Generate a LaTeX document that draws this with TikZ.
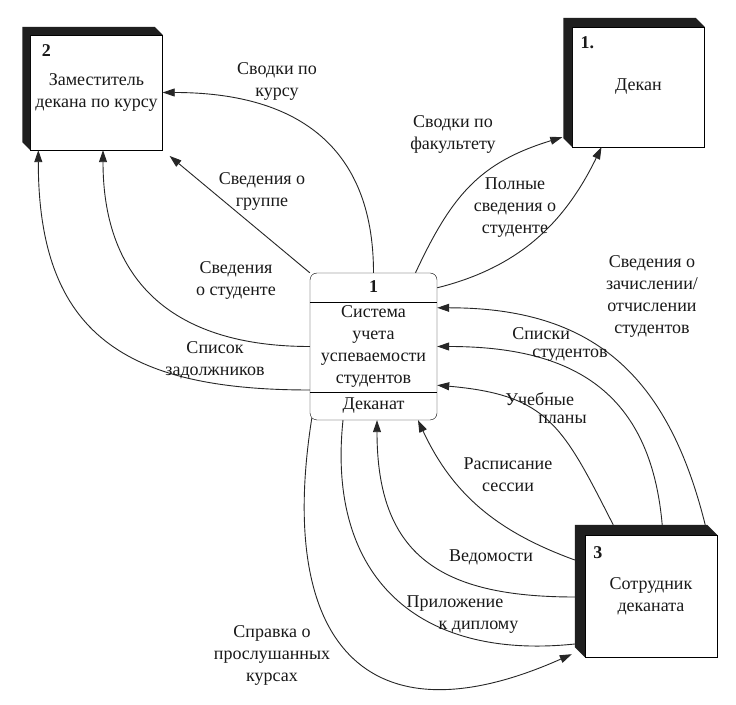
\documentclass[tikz,border=0pt]{standalone}
\usepackage{fontspec}
\setmainfont{Liberation Serif}
\usetikzlibrary{arrows.meta}

\begin{document}
\begin{tikzpicture}
  [x=1pt,y=1pt,
  every node/.style={font=\fontsize{18}{22}\selectfont,text=black!90,align=center},
  ent/.style={draw,fill=white,inner sep=2pt,minimum width=132pt},
  proc/.style={draw,rounded corners=7pt,minimum width=127pt,minimum height=147pt,inner sep=2pt},
  flow/.style={draw=black!85,line width=0.9pt,-{Triangle[length=12pt,width=8pt]}},
  line/.style={draw=black!85,line width=0.9pt}]
  \useasboundingbox (0,0) rectangle (736,704);
  \fill[white] (0,0) rectangle (736,704);

  % entities
  \node[ent,minimum height=115pt] (dep) at (96.5,611.5) {Заместитель\\декана по курсу};
  \node[ent,minimum height=120pt] (dean) at (638.5,617) {Декан};
  \node[ent,minimum height=122pt] (staff) at (651,108) {Сотрудник\\деканата};
  \foreach \n/\d in {dep/8,dean/9,staff/10}
    \fill[black!88] (\n.south west) -- ++(-\d,\d) -- ([shift={(-\d,\d)}]\n.north west)
      -- ([shift={(-\d,\d)}]\n.north east) -- (\n.north east) -- (\n.north west) -- cycle;
  \node (depid) at ([shift={(16,-16)}]dep.north west) {\textbf{2}};
  \node (deanid) at ([shift={(15,-16)}]dean.north west) {\textbf{1.}};
  \node (staffid) at ([shift={(13,-18)}]staff.north west) {\textbf{3}};

  % process
  \node[proc] (sys) at (373.5,357.5) {Система\\учета\\успеваемости\\студентов};
  \node (sysid) at ([yshift=-14pt]sys.north) {\textbf{1}};
  \node (sysdept) at ([yshift=15pt]sys.south) {Деканат};
  \draw ([yshift=-29pt]sys.north west) -- ([yshift=-29pt]sys.north east);
  \draw ([yshift=28pt]sys.south west) -- ([yshift=28pt]sys.south east);

  % flows to the deputy dean
  \draw[flow] (sys.north) to[out=90,in=0,looseness=1.2] (dep.east);
  \draw[flow,shorten >=9pt] (sys.north west) -- (dep.south east);
  \draw[flow] (sys.west) to[out=180,in=-90,looseness=1.2] ([xshift=6.5pt]dep.south);
  \draw[flow] ([yshift=-43.5pt]sys.west) to[out=180,in=-90,looseness=1.3] ([xshift=8pt]dep.south west);
  \node (lcourse) at (277,622.5) {Сводки по\\курсу};
  \node (lgroup) at (262,512.5) {Сведения о\\группе};
  \node (lstud) at (236,423.5) {Сведения\\о студенте};
  \node (ldebt) at (215,344) {Список\\задолжников};

  % flows to the dean
  \draw[flow] ([xshift=42pt]sys.north) to[out=65,in=197,looseness=1.1] ([shift={(-10,10)}]dean.south west);
  \draw[flow] ([yshift=-15pt]sys.north east) to[out=14,in=-116] ([xshift=-37pt]dean.south);
  \node (lfac) at (453,570) {Сводки по\\факультету};
  \node (lfull) at (515,496) {Полные\\сведения о\\студенте};

  % flows from the staff
  \draw[flow] ([shift={(-12,10)}]staff.north east) to[out=104,in=0,looseness=1.15] ([yshift=-35pt]sys.north east);
  \draw[flow] ([shift={(-55,10)}]staff.north east) to[out=95,in=0,looseness=1.2] (sys.east);
  \draw[flow] ([shift={(-104,10)}]staff.north east) to[out=117,in=-5,looseness=1.27] ([yshift=35pt]sys.south east);
  \draw[flow] ([shift={(-10,36)}]staff.west) to[out=160,in=-65] ([xshift=44.5pt]sys.south);
  \draw[flow] ([shift={(-10,-1)}]staff.west) to[out=180,in=-90,looseness=1.3] ([xshift=3.5pt]sys.south);
  \draw[line] ([xshift=-30.5pt]sys.south) to[out=-96,in=186,looseness=1.25] ([shift={(-10,-48)}]staff.west);
  \draw[flow] ([shift={(2,2)}]sys.south west) to[out=-99,in=204,looseness=1.65] ([shift={(-13,3)}]staff.south west);
  \node (lenrol) at (652,408) {Сведения о\\зачислении/\\отчислении\\студентов};
  \node[align=left] (llist) at (560,360) {Списки\\[-4pt]\hspace*{20pt}студентов};
  \node[align=left] (lplan) at (546,295.5) {Учебные\\[-4pt]\hspace*{33pt}планы};
  \node (lsched) at (508,229) {Расписание\\сессии};
  \node (lmarks) at (491,147) {Ведомости};
  \node[align=left] (ldipl) at (462.5,89) {Приложение\\\hspace*{32pt}к диплому};
  \node (lcert) at (272,49) {Справка о\\прослушанных\\курсах};
\end{tikzpicture}
\end{document}
